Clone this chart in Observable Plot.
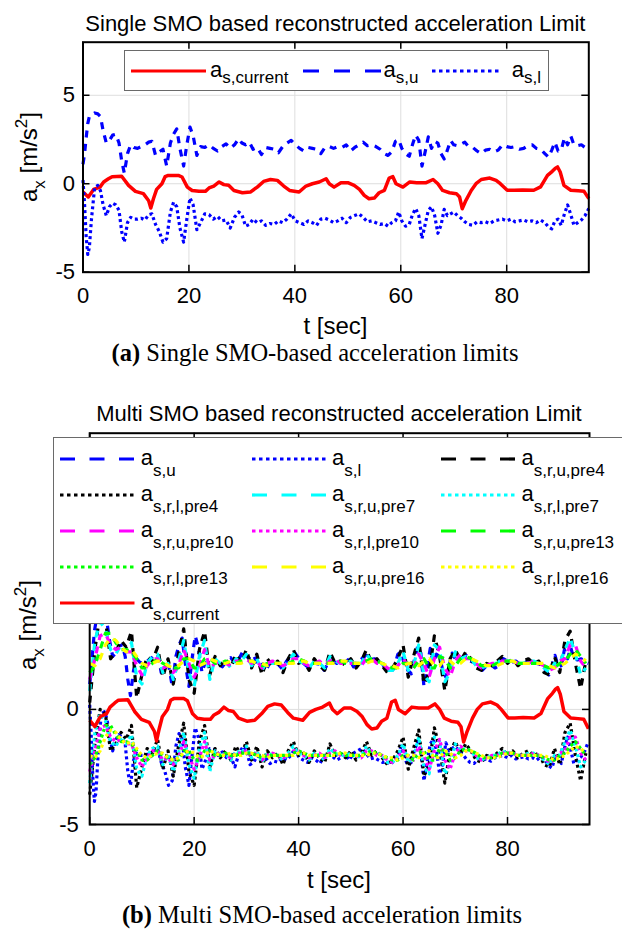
<!DOCTYPE html>
<html><head><meta charset="utf-8">
<script src="https://cdn.jsdelivr.net/npm/d3@7"></script>
<script src="https://cdn.jsdelivr.net/npm/@observablehq/plot@0.6"></script>
<style>
html,body{margin:0;padding:0;background:#fff;}
#fig{position:relative;width:622px;height:929px;overflow:hidden;color:#000;background:#fff;}
.abs{position:absolute;white-space:nowrap;}
svg.plot{position:absolute;left:0;}
</style></head><body><div id="fig"></div>
<script>
// ---------------- data ----------------
const xTicks = [0, 20, 40, 60, 80];
const yTicksA = [-5, 0, 5];
const yTicksB = [-5, 0, 5, 10];

// measured current acceleration a_s,current
const tCurrent = [0,1,2,3.2,3.9,4.8,5.5,7.3,8.6,9.9,
  11.4,12.4,12.8,13.3,13.9,14.9,15.5,16.1,18.0,18.7,
  19.7,20.6,21.9,23.1,23.8,24.7,25.7,26.6,27.5,28.5,
  30.1,31.6,32.9,34.1,35.4,36.7,37.9,39.0,40.8,42.1,
  43.3,44.6,45.9,46.5,47.4,48.7,50.0,51.2,52.2,53.1,
  54.0,55.0,55.9,56.9,57.8,58.5,59.1,60.4,61.7,63.0,
  64.8,66.1,67.0,67.9,69.2,70.5,71.1,71.6,72.2,73.3,
  74.2,75.2,76.8,78.0,78.8,80.1,81.4,83.0,85.1,86.4,
  87.7,88.6,89.2,89.6,90.1,90.8,92.1,93.5,94.6,95.5];
const aCurrent = [-0.47,-0.75,-0.32,-0.19,0.1,0.28,0.4,0.42,-0.09,-0.43,
  -0.56,-0.96,-1.37,-0.85,-0.32,0,0.4,0.47,0.47,0.38,
  -0.19,-0.38,-0.43,-0.43,-0.24,-0.13,0.1,-0.05,-0.09,-0.38,
  -0.51,-0.47,-0.19,0.13,0.24,0.19,-0.13,-0.38,-0.47,-0.13,
  0,0.1,0.28,0,-0.19,0.06,0.06,-0.09,-0.32,-0.66,
  -0.85,-0.81,-0.51,-0.38,0.32,0.4,0,-0.19,0.1,0.06,
  0.06,0.24,0,-0.38,-0.51,-0.56,-0.75,-1.41,-1.0,-0.38,
  0,0.24,0.32,0.19,0,-0.37,-0.37,-0.35,-0.37,-0.18,
  0.47,0.7,0.88,0.95,0.66,-0.09,-0.37,-0.4,-0.43,-0.84];

// single SMO limits a_s,u and a_s,l
const tS = [0,0.3,0.6,0.9,1.2,1.6,2.2,2.8,3.3,3.8,
  4.4,5.0,5.6,6.2,6.8,7.3,7.8,8.4,9.0,9.6,
  10.3,11.0,11.7,12.4,13.0,13.7,14.4,15.1,15.8,16.5,
  17.1,17.7,18.3,19.0,19.6,20.2,20.8,21.5,22.2,23.0,
  23.8,24.6,25.4,26.2,27.0,27.8,28.6,29.4,30.0,30.7,
  31.4,32.1,32.9,33.7,34.5,35.3,36.1,36.9,37.7,38.5,
  39.3,40.1,40.9,41.7,42.5,43.3,44.1,44.9,45.7,46.5,
  47.3,48.1,48.9,49.7,50.5,51.3,52.1,52.9,53.7,54.5,
  55.3,56.1,56.9,57.6,58.3,59.0,59.6,60.2,60.9,61.6,
  62.2,62.8,63.4,64.0,64.6,65.2,65.8,66.4,67.0,67.6,
  68.2,68.8,69.4,70.0,70.7,71.4,72.1,72.8,73.6,74.4,
  75.2,76.0,76.8,77.6,78.4,79.2,80.0,80.8,81.6,82.4,
  83.2,84.0,84.8,85.6,86.4,87.2,87.9,88.5,89.1,89.7,
  90.3,90.9,91.5,92.1,92.7,93.4,94.1,94.8,95.5];
const aSU = [1.1,1.7,2.6,3.4,3.8,3.9,4.0,3.95,3.8,3.0,
  2.3,2.45,2.75,2.8,2.3,1.3,0.6,1.7,2.2,2.05,
  2.0,2.1,2.2,2.35,2.4,1.6,1.8,1.95,1.0,2.3,
  2.8,3.1,2.0,1.0,2.2,3.2,2.7,1.6,2.1,2.05,
  2.2,2.0,1.85,2.1,2.25,2.0,2.2,2.55,2.3,2.2,
  2.35,1.95,2.05,1.65,2.05,2.0,1.95,1.75,2.1,2.3,
  2.45,2.2,2.0,1.85,2.05,2.0,1.95,1.7,2.05,2.1,
  2.0,2.1,2.05,2.2,1.85,2.05,2.2,2.35,2.15,2.2,
  2.1,1.95,1.7,1.6,1.8,2.4,2.5,2.0,1.7,1.55,
  2.2,2.75,2.45,1.0,1.8,2.65,2.0,2.4,2.3,1.7,
  1.4,1.9,2.45,2.2,2.15,2.25,2.35,2.1,2.05,1.85,
  1.7,1.9,1.95,1.8,1.9,2.2,2.1,2.05,2.1,1.95,
  2.0,2.15,2.2,2.0,1.95,1.7,1.5,1.9,2.35,1.85,
  1.9,2.6,2.2,2.7,2.2,2.15,2.2,2.05,2.0];
const aSL = [0.2,-1.2,-3.0,-4.0,-3.6,-2.0,-0.2,-0.1,-0.4,-1.2,
  -1.8,-1.3,-1.1,-1.2,-1.5,-2.7,-3.3,-2.2,-1.9,-2.0,
  -2.0,-1.95,-2.05,-1.75,-1.7,-2.3,-2.7,-3.3,-3.1,-1.6,
  -1.05,-1.3,-2.5,-3.3,-2.0,-0.8,-1.2,-2.6,-2.2,-1.7,
  -1.75,-2.0,-1.85,-2.1,-2.05,-2.5,-1.9,-1.6,-1.75,-2.4,
  -2.3,-2.0,-2.2,-2.1,-2.35,-2.25,-2.3,-2.1,-2.2,-2.0,
  -1.7,-2.1,-2.2,-2.3,-2.1,-2.2,-2.35,-2.0,-1.95,-2.05,
  -2.2,-2.1,-1.95,-2.2,-1.9,-1.8,-1.7,-1.9,-2.15,-2.1,
  -2.2,-2.3,-2.25,-2.4,-2.2,-2.1,-1.6,-2.1,-2.4,-2.3,
  -1.75,-1.4,-1.8,-3.1,-2.3,-1.5,-1.3,-1.8,-2.8,-2.35,
  -1.45,-1.8,-1.7,-1.6,-1.8,-1.95,-2.15,-2.3,-2.35,-2.15,
  -2.2,-2.15,-2.25,-2.1,-2.05,-2.0,-2.1,-2.0,-2.15,-2.1,
  -2.05,-2.15,-2.1,-2.2,-2.05,-2.2,-2.45,-2.55,-2.1,-2.0,
  -2.35,-1.7,-1.2,-1.75,-2.35,-2.2,-2.05,-1.8,-1.4];

// multi SMO predicted limits, 1 s grid
const tPre = d3.range(0, 96);
const aU4 = [0.3,2.6,4.2,3.9,2.2,2.5,3.0,2.7,3.4,0.5,
  1.5,2.3,2.1,2.7,1.4,2.2,1.1,2.4,3.5,1.3,
  0.7,2.6,3.4,1.5,2.3,1.9,2.2,1.8,2.4,2.0,
  2.6,1.8,2.4,1.5,2.2,1.9,2.1,1.6,2.2,2.6,
  2.0,2.1,1.7,2.2,1.9,1.7,2.5,2.0,2.1,1.9,
  2.2,1.8,2.1,2.6,2.0,2.2,1.9,1.6,1.8,2.2,
  2.8,1.4,2.3,3.1,1.1,1.6,3.2,2.3,0.8,2.2,
  2.6,2.1,2.5,2.2,1.8,1.7,2.0,1.9,2.1,2.3,
  2.0,2.2,1.9,2.1,2.2,2.0,2.1,1.6,1.5,2.3,
  1.6,3.0,3.4,2.0,0.9,2.1];
const aL4 = [-3.7,-1.5,0.0,-0.2,-1.8,-1.5,-1.0,-1.3,-0.7,-3.4,
  -2.5,-1.7,-1.9,-1.3,-2.6,-1.8,-2.9,-1.6,-0.6,-2.7,
  -3.3,-1.4,-0.7,-2.5,-1.7,-2.1,-1.8,-2.2,-1.6,-2.0,
  -1.4,-2.2,-1.6,-2.5,-1.8,-2.1,-1.9,-2.4,-1.8,-1.4,
  -2.0,-1.9,-2.3,-1.8,-2.1,-2.3,-1.5,-2.0,-1.9,-2.1,
  -1.8,-2.2,-1.9,-1.4,-2.0,-1.8,-2.1,-2.4,-2.2,-1.8,
  -1.2,-2.6,-1.7,-0.9,-2.9,-2.4,-0.8,-1.7,-3.2,-1.8,
  -1.4,-1.9,-1.5,-1.8,-2.2,-2.3,-2.0,-2.1,-1.9,-1.7,
  -2.0,-1.8,-2.1,-1.9,-1.8,-2.0,-1.9,-2.4,-2.5,-1.7,
  -2.4,-1.0,-0.6,-2.0,-3.1,-1.9];
const aU7 = [0.8,3.0,3.8,3.5,2.6,2.4,2.8,2.5,2.9,1.4,
  1.1,2.0,2.3,2.4,1.6,2.0,1.3,2.1,3.0,1.6,
  1.0,2.3,3.0,1.3,2.2,2.0,2.1,1.8,2.2,2.1,
  2.4,1.9,2.2,1.7,2.1,2.0,2.0,1.8,2.1,2.4,
  2.1,2.0,1.8,2.1,2.0,1.8,2.3,2.1,2.0,2.0,
  2.1,1.9,2.0,2.4,2.1,2.1,2.0,1.7,1.7,2.0,
  2.5,1.7,1.9,2.8,1.5,1.2,2.8,2.6,1.2,1.6,
  2.5,2.2,2.3,2.2,1.9,1.8,1.9,2.0,2.0,2.2,
  2.1,2.1,2.0,2.0,2.1,2.1,2.0,1.8,1.6,2.0,
  2.0,2.6,3.1,2.4,1.5,1.8];
const aL7 = [-3.2,-1.0,-0.2,-0.5,-1.4,-1.6,-1.2,-1.5,-1.1,-2.6,
  -2.9,-2.0,-1.7,-1.6,-2.4,-2.0,-2.7,-1.9,-1.0,-2.4,
  -3.0,-1.7,-1.0,-2.7,-1.8,-2.0,-1.9,-2.2,-1.8,-1.9,
  -1.6,-2.1,-1.8,-2.3,-1.9,-2.0,-2.0,-2.2,-1.9,-1.6,
  -1.9,-2.0,-2.2,-1.9,-2.0,-2.2,-1.7,-1.9,-2.0,-2.0,
  -1.9,-2.1,-2.0,-1.6,-1.9,-1.9,-2.0,-2.3,-2.3,-2.0,
  -1.5,-2.3,-2.1,-1.2,-2.5,-2.8,-1.2,-1.4,-2.8,-2.4,
  -1.5,-1.8,-1.7,-1.8,-2.1,-2.2,-2.1,-2.0,-2.0,-1.8,
  -1.9,-1.9,-2.0,-2.0,-1.9,-1.9,-2.0,-2.2,-2.4,-2.0,
  -2.0,-1.4,-0.9,-1.6,-2.5,-2.2];
const aU10 = [1.3,2.2,3.2,3.3,2.8,2.6,2.7,2.5,2.5,1.9,
  1.5,1.9,2.2,2.2,1.8,1.9,1.6,1.9,2.6,2.0,
  1.4,1.9,2.6,1.8,2.0,2.1,2.0,1.9,2.1,2.1,
  2.2,2.0,2.1,1.8,2.0,2.1,2.0,1.9,2.0,2.2,
  2.2,2.0,1.9,2.0,2.1,1.9,2.1,2.2,2.0,2.0,
  2.0,2.0,1.9,2.2,2.2,2.0,2.0,1.8,1.7,1.9,
  2.2,1.9,1.8,2.4,2.0,1.4,2.2,2.7,1.8,1.4,
  2.1,2.4,2.2,2.2,2.0,1.8,1.9,2.0,2.0,2.1,
  2.1,2.1,2.0,2.0,2.0,2.1,2.0,1.9,1.7,1.8,
  2.1,2.2,2.8,2.8,2.1,1.8];
const aL10 = [-2.7,-1.8,-0.8,-0.7,-1.2,-1.4,-1.3,-1.5,-1.5,-2.1,
  -2.5,-2.1,-1.8,-1.8,-2.2,-2.1,-2.4,-2.1,-1.4,-2.0,
  -2.6,-2.1,-1.4,-2.2,-2.0,-1.9,-2.0,-2.1,-1.9,-1.9,
  -1.8,-2.0,-1.9,-2.2,-2.0,-1.9,-2.0,-2.1,-2.0,-1.8,
  -1.8,-2.0,-2.1,-2.0,-1.9,-2.1,-1.9,-1.8,-2.0,-2.0,
  -2.0,-2.0,-2.1,-1.8,-1.8,-2.0,-2.0,-2.2,-2.3,-2.1,
  -1.8,-2.1,-2.2,-1.6,-2.0,-2.6,-1.8,-1.3,-2.2,-2.6,
  -1.9,-1.6,-1.8,-1.8,-2.0,-2.2,-2.1,-2.0,-2.0,-1.9,
  -1.9,-1.9,-2.0,-2.0,-2.0,-1.9,-2.0,-2.1,-2.3,-2.2,
  -1.9,-1.8,-1.2,-1.2,-1.9,-2.2];
const aU13 = [1.6,1.9,2.6,3.3,3.3,2.9,2.6,2.6,2.5,2.2,
  1.8,1.8,2.0,2.2,2.0,1.9,1.8,1.8,2.2,2.2,
  1.8,1.8,2.2,2.2,2.0,2.0,2.1,2.0,2.0,2.1,
  2.1,2.1,2.0,1.9,2.0,2.0,2.0,2.0,2.0,2.1,
  2.2,2.1,2.0,2.0,2.0,2.0,2.0,2.1,2.1,2.0,
  2.0,2.0,2.0,2.1,2.2,2.1,2.0,1.9,1.8,1.8,
  2.0,2.0,1.8,2.1,2.2,1.8,1.8,2.3,2.2,1.8,
  1.9,2.2,2.3,2.2,2.1,1.9,1.9,1.9,2.0,2.1,
  2.1,2.1,2.0,2.0,2.0,2.0,2.0,1.9,1.8,1.8,
  2.0,2.1,2.4,2.6,2.3,2.0];
const aL13 = [-2.4,-2.1,-1.4,-0.7,-0.7,-1.1,-1.4,-1.4,-1.5,-1.8,
  -2.2,-2.2,-2.0,-1.8,-2.0,-2.1,-2.2,-2.2,-1.8,-1.8,
  -2.2,-2.2,-1.8,-1.8,-2.0,-2.0,-1.9,-2.0,-2.0,-1.9,
  -1.9,-1.9,-2.0,-2.1,-2.0,-2.0,-2.0,-2.0,-2.0,-1.9,
  -1.8,-1.9,-2.0,-2.0,-2.0,-2.0,-2.0,-1.9,-1.9,-2.0,
  -2.0,-2.0,-2.0,-1.9,-1.8,-1.9,-2.0,-2.1,-2.2,-2.2,
  -2.0,-2.0,-2.2,-1.9,-1.8,-2.2,-2.2,-1.7,-1.8,-2.2,
  -2.1,-1.8,-1.7,-1.8,-1.9,-2.1,-2.1,-2.1,-2.0,-1.9,
  -1.9,-1.9,-2.0,-2.0,-2.0,-2.0,-2.0,-2.1,-2.2,-2.2,
  -2.0,-1.9,-1.6,-1.4,-1.7,-2.0];
const aU16 = [2.0,1.9,2.2,2.8,3.1,3.0,2.7,2.5,2.6,2.3,
  2.0,1.9,2.0,2.1,2.1,1.9,1.8,1.9,2.1,2.2,
  2.1,1.9,2.0,2.2,2.1,2.0,2.0,2.1,2.0,2.0,
  2.1,2.1,2.0,2.0,1.9,2.0,2.0,2.0,2.0,2.0,
  2.1,2.1,2.0,2.0,2.0,2.0,2.0,2.0,2.1,2.1,
  2.0,2.0,2.0,2.0,2.1,2.1,2.0,1.9,1.9,1.8,
  1.9,2.0,2.0,1.9,2.1,2.2,1.9,1.9,2.2,2.1,
  1.9,2.0,2.2,2.2,2.1,2.0,1.9,1.9,1.9,2.0,
  2.1,2.1,2.0,2.0,2.0,2.0,2.0,2.0,1.9,1.8,
  1.9,2.0,2.2,2.4,2.3,2.1];
const aL16 = [-2.0,-2.1,-1.8,-1.2,-0.9,-1.0,-1.3,-1.5,-1.4,-1.7,
  -2.0,-2.1,-2.0,-1.9,-1.9,-2.1,-2.2,-2.1,-1.9,-1.8,
  -1.9,-2.1,-2.0,-1.8,-1.9,-2.0,-2.0,-1.9,-2.0,-2.0,
  -1.9,-1.9,-2.0,-2.0,-2.1,-2.0,-2.0,-2.0,-2.0,-2.0,
  -1.9,-1.9,-2.0,-2.0,-2.0,-2.0,-2.0,-2.0,-1.9,-1.9,
  -2.0,-2.0,-2.0,-2.0,-1.9,-1.9,-2.0,-2.1,-2.1,-2.2,
  -2.1,-2.0,-2.0,-2.1,-1.9,-1.8,-2.1,-2.1,-1.8,-1.9,
  -2.1,-2.0,-1.8,-1.8,-1.9,-2.0,-2.1,-2.1,-2.1,-2.0,
  -1.9,-1.9,-2.0,-2.0,-2.0,-2.0,-2.0,-2.0,-2.1,-2.2,
  -2.1,-2.0,-1.8,-1.6,-1.7,-1.9];

const labelsB = ["s,u","s,l","s,r,u,pre4","s,r,l,pre4","s,r,u,pre7","s,r,l,pre7",
  "s,r,u,pre10","s,r,l,pre10","s,r,u,pre13","s,r,l,pre13","s,r,u,pre16","s,r,l,pre16","s,current"];
const labelsA = ["s,current","s,u","s,l"];

// ---------------- styles ----------------
const SANS = "'Liberation Sans', Arial, Helvetica, sans-serif";
const SERIF = "'Liberation Serif', 'Times New Roman', serif";
const C = {blue:"#0000ff", black:"#000000", cyan:"#00ffff", magenta:"#ff00ff", green:"#00ff00", yellow:"#ffff00", red:"#ff0000"};
const DASH = "7,6.5", DOT = "3,3";
const pts = (ts, vs) => ts.map((t, i) => ({t, v: vs[i]}));

const seriesA = [
  {data: pts(tCurrent, aCurrent), color: C.red, dash: null, w: 3.5},
  {data: pts(tS, aSU), color: C.blue, dash: DASH, w: 3.2},
  {data: pts(tS, aSL), color: C.blue, dash: DOT, w: 3.2}
];
const seriesB = [
  {data: pts(tS, aSU), color: C.blue, dash: DASH},
  {data: pts(tS, aSL), color: C.blue, dash: DOT},
  {data: pts(tPre, aU4), color: C.black, dash: DASH},
  {data: pts(tPre, aL4), color: C.black, dash: DOT},
  {data: pts(tPre, aU7), color: C.cyan, dash: DASH},
  {data: pts(tPre, aL7), color: C.cyan, dash: DOT},
  {data: pts(tPre, aU10), color: C.magenta, dash: DASH},
  {data: pts(tPre, aL10), color: C.magenta, dash: DOT},
  {data: pts(tPre, aU13), color: C.green, dash: DASH},
  {data: pts(tPre, aL13), color: C.green, dash: DOT},
  {data: pts(tPre, aU16), color: C.yellow, dash: DASH},
  {data: pts(tPre, aL16), color: C.yellow, dash: DOT},
  {data: pts(tCurrent, aCurrent), color: C.red, dash: null, w: 3.5}
];

const fig = document.getElementById("fig");

function makePanel(o) {
  const plotH = o.height - o.mt - o.mb;
  const plotW = 622 - o.ml - o.mr;
  const fmt = d => String(d);
  const svg = Plot.plot({
    width: 622, height: o.height,
    marginTop: o.mt, marginBottom: o.mb, marginLeft: o.ml, marginRight: o.mr,
    x: {domain: o.xdom},
    y: {domain: o.ydom},
    style: {fontFamily: SANS, fontSize: "22px", color: "#000", background: "transparent"},
    marks: [
      Plot.gridX(xTicks.slice(1), {stroke: "#dedede", strokeOpacity: 1, strokeWidth: 1}),
      Plot.gridY(o.yTicks, {stroke: "#dedede", strokeOpacity: 1, strokeWidth: 1}),
      ...o.series.map(s => Plot.line(s.data, {x: "t", y: "v", stroke: s.color, strokeWidth: s.w || 3.2,
        strokeDasharray: s.dash, strokeLinecap: "butt", strokeLinejoin: "round"})),
      Plot.frame({stroke: "#000", strokeWidth: 2}),
      Plot.tickX(xTicks, {x: d => d, stroke: "#000", strokeWidth: 1.5, insetBottom: plotH - 7}),
      Plot.tickX(xTicks, {x: d => d, stroke: "#000", strokeWidth: 1.5, insetTop: plotH - 7}),
      Plot.tickY(o.yTicks, {y: d => d, stroke: "#000", strokeWidth: 1.5, insetRight: plotW - 7}),
      Plot.tickY(o.yTicks, {y: d => d, stroke: "#000", strokeWidth: 1.5, insetLeft: plotW - 7}),
      Plot.axisX({ticks: xTicks, tickSize: 0, tickPadding: o.padX, tickFormat: fmt, label: null, fontSize: 22, fill: "#000"}),
      Plot.axisY({ticks: o.yTicks, tickSize: 0, tickPadding: o.padY, tickFormat: fmt, label: null, fontSize: 22, fill: "#000"})
    ]
  });
  svg.classList.add("plot");
  svg.style.top = o.top + "px";
  fig.appendChild(svg);
}

function txt(html, x, base, fs, opt = {}) {
  const d = document.createElement("div");
  d.className = "abs";
  d.innerHTML = html;
  const k = opt.serif ? 0.8375 : 0.8465;
  d.style.left = x + "px";
  d.style.top = (base - k * fs) + "px";
  d.style.fontSize = fs + "px";
  d.style.lineHeight = fs + "px";
  d.style.fontFamily = opt.serif ? SERIF : SANS;
  if (opt.center) d.style.transform = "translateX(-50%)";
  fig.appendChild(d);
  return d;
}
const sub = (s, dy, fs = 17) => `<span style="position:relative;top:${dy}px;font-size:${fs}px;line-height:0">${s}</span>`;

function box(x, y, w, h) {
  const d = document.createElement("div");
  d.className = "abs";
  Object.assign(d.style, {left: x + "px", top: y + "px", width: w + "px", height: h + "px",
    background: "#fff", border: "1.5px solid #6a6a6a", boxSizing: "border-box"});
  fig.appendChild(d);
}
function sample(x1, x2, y, color, dash) {
  const ns = "http://www.w3.org/2000/svg";
  const s = document.createElementNS(ns, "svg");
  s.setAttribute("width", x2 - x1); s.setAttribute("height", 8);
  Object.assign(s.style, {position: "absolute", left: x1 + "px", top: (y - 4) + "px"});
  const l = document.createElementNS(ns, "line");
  l.setAttribute("x1", 0); l.setAttribute("x2", x2 - x1); l.setAttribute("y1", 4); l.setAttribute("y2", 4);
  l.setAttribute("stroke", color); l.setAttribute("stroke-width", 3.2);
  if (dash) l.setAttribute("stroke-dasharray", dash);
  s.appendChild(l);
  fig.appendChild(s);
}

// ---------------- panel (a) ----------------
makePanel({top: 0, height: 310, mt: 41.7, mb: 38.3, ml: 82.5, mr: 33.7,
  xdom: [0, 95.5], ydom: [-5, 8], yTicks: yTicksA, series: seriesA, padX: 15, padY: 8});
txt("Single SMO based reconstructed acceleration Limit", 335.4, 31.7, 22, {center: true});
txt("t [sec]", 335.4, 334, 24, {center: true});
box(124, 50, 424.6, 40.7);
const legA = [[131, 206, 210, null], [303, 381, 383.5, "16,15"], [432, 502, 511.7, "3.5,3.5"]];
legA.forEach(([a, b, lx, dash], i) => {
  sample(a, b, 70.7, seriesA[i].color, dash);
  txt("a" + sub(labelsA[i], 6), lx, 77.3, 22);
});
txt("<b>(a)</b> Single SMO-based acceleration limits", 315, 362, 24.5, {serif: true, center: true});

// ---------------- panel (b) ----------------
makePanel({top: 400, height: 460, mt: 32.7, mb: 36, ml: 89.2, mr: 33,
  xdom: [0, 95.7], ydom: [-5, 12], yTicks: yTicksB, series: seriesB, padX: 16, padY: 11});
txt("Multi SMO based reconstructed acceleration Limit", 339, 421.7, 22, {center: true});
txt("t [sec]", 339, 888, 24, {center: true});
box(52.8, 436.7, 600, 187.3);
const colX = [60.3, 251.5, 441];
const rowY = [459, 495, 531, 567, 603];
seriesB.forEach((s, i) => {
  const r = Math.floor(i / 3), c = i % 3;
  const x0 = colX[c], y0 = rowY[r];
  const dash = s.dash === DASH ? "15,14.5" : (s.dash === DOT ? "3.5,3.5" : null);
  sample(x0, x0 + 74.5, y0, s.color, dash);
  txt("a" + sub(labelsB[i], 11), x0 + 80.5, y0 + 7, 22);
});
txt("<b>(b)</b> Multi SMO-based acceleration limits", 322, 924, 24.5, {serif: true, center: true});

// ---------------- y labels ----------------
function ylabel(cx, cy) {
  const d = document.createElement("div");
  d.className = "abs";
  d.innerHTML = "a" + sub("x", 8, 17) + " [m/s" + sub("2", -10, 17) + "]";
  Object.assign(d.style, {left: cx + "px", top: cy + "px", fontSize: "24px", lineHeight: "24px",
    fontFamily: SANS, transform: "translate(-50%,-50%) rotate(-90deg)"});
  fig.appendChild(d);
}
ylabel(29, 156.5);
ylabel(27.5, 625);
</script></body></html>
